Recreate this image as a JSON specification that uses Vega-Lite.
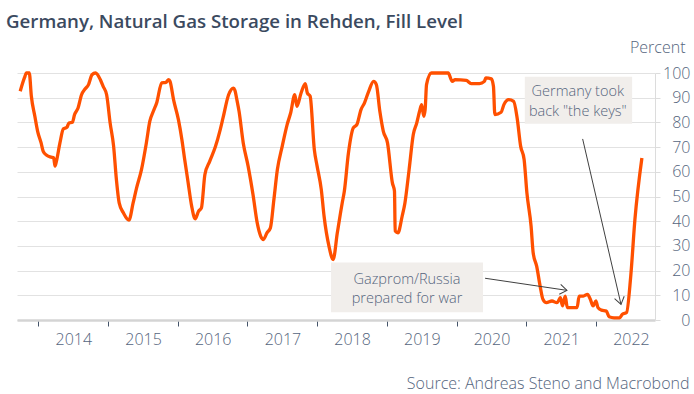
{
  "$schema": "https://vega.github.io/schema/vega-lite/v6.json",
  "autosize": {"type": "none"},
  "width": 638,
  "height": 247,
  "padding": {"left": 17, "top": 73, "right": 39, "bottom": 74},
  "background": "#ffffff",
  "title": {
    "text": "Germany, Natural Gas Storage in Rehden, Fill Level",
    "anchor": "start",
    "frame": "group",
    "dx": -11,
    "offset": 7,
    "font": "Open Sans",
    "fontSize": 18.7,
    "fontWeight": 600,
    "color": "#3b4a5f"
  },
  "config": {
    "view": {"stroke": null},
    "font": "Open Sans"
  },
  "datasets": {
    "storage": [
      {"year": 2013.74, "fill": 92.6}, {"year": 2013.80, "fill": 98}, {"year": 2013.83, "fill": 100}, {"year": 2013.87, "fill": 100},
      {"year": 2013.90, "fill": 90.6}, {"year": 2013.95, "fill": 82.5}, {"year": 2013.99, "fill": 76.4}, {"year": 2014.04, "fill": 71.7},
      {"year": 2014.07, "fill": 68.3}, {"year": 2014.12, "fill": 66.7}, {"year": 2014.19, "fill": 65.9}, {"year": 2014.22, "fill": 65.6},
      {"year": 2014.24, "fill": 62.3}, {"year": 2014.26, "fill": 64.3}, {"year": 2014.31, "fill": 71.7}, {"year": 2014.36, "fill": 77.4},
      {"year": 2014.41, "fill": 78}, {"year": 2014.44, "fill": 79.8}, {"year": 2014.49, "fill": 80.1}, {"year": 2014.52, "fill": 83.2},
      {"year": 2014.57, "fill": 85.8}, {"year": 2014.62, "fill": 91.2}, {"year": 2014.67, "fill": 93.5}, {"year": 2014.72, "fill": 95.3},
      {"year": 2014.77, "fill": 99.3}, {"year": 2014.82, "fill": 100}, {"year": 2014.89, "fill": 97.3}, {"year": 2014.93, "fill": 94.6},
      {"year": 2014.98, "fill": 91.2}, {"year": 2015.03, "fill": 79.8}, {"year": 2015.08, "fill": 70.4}, {"year": 2015.12, "fill": 56.9},
      {"year": 2015.16, "fill": 47.4}, {"year": 2015.22, "fill": 43.4}, {"year": 2015.30, "fill": 40.4}, {"year": 2015.36, "fill": 47.4},
      {"year": 2015.41, "fill": 53.5}, {"year": 2015.48, "fill": 60.9}, {"year": 2015.55, "fill": 71.7}, {"year": 2015.60, "fill": 80.5},
      {"year": 2015.65, "fill": 84.5}, {"year": 2015.70, "fill": 88.1}, {"year": 2015.77, "fill": 96}, {"year": 2015.83, "fill": 96.2},
      {"year": 2015.87, "fill": 97.3}, {"year": 2015.89, "fill": 96.6}, {"year": 2015.94, "fill": 89.2}, {"year": 2016.01, "fill": 81.1},
      {"year": 2016.06, "fill": 73}, {"year": 2016.10, "fill": 65}, {"year": 2016.15, "fill": 55.5}, {"year": 2016.20, "fill": 46.1},
      {"year": 2016.25, "fill": 41}, {"year": 2016.30, "fill": 44.1}, {"year": 2016.34, "fill": 45.4}, {"year": 2016.39, "fill": 58.9},
      {"year": 2016.46, "fill": 64.3}, {"year": 2016.54, "fill": 70.1}, {"year": 2016.61, "fill": 77.1}, {"year": 2016.65, "fill": 81.8},
      {"year": 2016.73, "fill": 91.2}, {"year": 2016.80, "fill": 93.9}, {"year": 2016.82, "fill": 93}, {"year": 2016.85, "fill": 89},
      {"year": 2016.88, "fill": 84.5}, {"year": 2016.94, "fill": 71.7}, {"year": 2017.01, "fill": 62.3}, {"year": 2017.08, "fill": 50.8},
      {"year": 2017.14, "fill": 39.4}, {"year": 2017.19, "fill": 34}, {"year": 2017.23, "fill": 32.6}, {"year": 2017.28, "fill": 35.3},
      {"year": 2017.33, "fill": 37.3}, {"year": 2017.38, "fill": 48.8}, {"year": 2017.43, "fill": 60.9}, {"year": 2017.50, "fill": 70.4},
      {"year": 2017.57, "fill": 79.1}, {"year": 2017.62, "fill": 83.8}, {"year": 2017.68, "fill": 91.2}, {"year": 2017.71, "fill": 86.5},
      {"year": 2017.77, "fill": 91.9}, {"year": 2017.83, "fill": 95.7}, {"year": 2017.86, "fill": 91.9}, {"year": 2017.90, "fill": 90.6},
      {"year": 2017.96, "fill": 69}, {"year": 2018.00, "fill": 62.3}, {"year": 2018.06, "fill": 52.8}, {"year": 2018.10, "fill": 42},
      {"year": 2018.17, "fill": 29.9}, {"year": 2018.23, "fill": 24.5}, {"year": 2018.29, "fill": 35.3}, {"year": 2018.36, "fill": 47.4},
      {"year": 2018.39, "fill": 52}, {"year": 2018.45, "fill": 67.7}, {"year": 2018.52, "fill": 77.8}, {"year": 2018.57, "fill": 79.1},
      {"year": 2018.63, "fill": 85.2}, {"year": 2018.68, "fill": 87.9}, {"year": 2018.74, "fill": 92.6}, {"year": 2018.81, "fill": 96.6},
      {"year": 2018.85, "fill": 95.3}, {"year": 2018.90, "fill": 84.5}, {"year": 2018.95, "fill": 76.4}, {"year": 2019.01, "fill": 71.7},
      {"year": 2019.08, "fill": 55.5}, {"year": 2019.11, "fill": 52.2}, {"year": 2019.12, "fill": 36}, {"year": 2019.16, "fill": 35.3},
      {"year": 2019.22, "fill": 42}, {"year": 2019.26, "fill": 47.4}, {"year": 2019.32, "fill": 60.9}, {"year": 2019.38, "fill": 75.1},
      {"year": 2019.43, "fill": 79.8}, {"year": 2019.47, "fill": 84.5}, {"year": 2019.50, "fill": 87.2}, {"year": 2019.53, "fill": 82.5},
      {"year": 2019.55, "fill": 85.2}, {"year": 2019.57, "fill": 95.3}, {"year": 2019.64, "fill": 100}, {"year": 2019.76, "fill": 100},
      {"year": 2019.88, "fill": 100}, {"year": 2019.94, "fill": 96.6}, {"year": 2019.98, "fill": 97.3}, {"year": 2020.14, "fill": 97},
      {"year": 2020.21, "fill": 95.7}, {"year": 2020.33, "fill": 95.7}, {"year": 2020.40, "fill": 96.6}, {"year": 2020.42, "fill": 98},
      {"year": 2020.50, "fill": 97.6}, {"year": 2020.53, "fill": 94.6}, {"year": 2020.55, "fill": 83.2}, {"year": 2020.64, "fill": 84.1},
      {"year": 2020.68, "fill": 87.2}, {"year": 2020.75, "fill": 89.2}, {"year": 2020.82, "fill": 88.5}, {"year": 2020.87, "fill": 81.8},
      {"year": 2020.92, "fill": 70.4}, {"year": 2020.97, "fill": 65}, {"year": 2021.01, "fill": 51.5}, {"year": 2021.07, "fill": 38},
      {"year": 2021.10, "fill": 27.2}, {"year": 2021.15, "fill": 21.8}, {"year": 2021.20, "fill": 13.7}, {"year": 2021.24, "fill": 8.4},
      {"year": 2021.29, "fill": 7}, {"year": 2021.37, "fill": 7.7}, {"year": 2021.44, "fill": 7}, {"year": 2021.47, "fill": 8.1},
      {"year": 2021.49, "fill": 9}, {"year": 2021.52, "fill": 5.7}, {"year": 2021.56, "fill": 9.7}, {"year": 2021.59, "fill": 5},
      {"year": 2021.63, "fill": 5}, {"year": 2021.68, "fill": 5}, {"year": 2021.73, "fill": 5}, {"year": 2021.76, "fill": 9.7},
      {"year": 2021.82, "fill": 9.7}, {"year": 2021.88, "fill": 10.4}, {"year": 2021.92, "fill": 8.4}, {"year": 2021.96, "fill": 5.7},
      {"year": 2022.00, "fill": 7.7}, {"year": 2022.03, "fill": 5}, {"year": 2022.08, "fill": 4}, {"year": 2022.15, "fill": 3.6},
      {"year": 2022.19, "fill": 1.3}, {"year": 2022.26, "fill": 0.9}, {"year": 2022.34, "fill": 0.9}, {"year": 2022.38, "fill": 2.3},
      {"year": 2022.44, "fill": 3}, {"year": 2022.50, "fill": 17.8}, {"year": 2022.56, "fill": 40.7}, {"year": 2022.66, "fill": 65.6}
    ],
    "boxes": [
      {"name": "gazprom", "year": 2018.20, "year2": 2020.38, "fill": 3.1, "fill2": 23.3},
      {"name": "germany", "year": 2020.98, "year2": 2022.52, "fill": 79.5, "fill2": 98.5}
    ],
    "notes": [
      {"year": 2019.29, "fill": 16.0, "label": "Gazprom/Russia"},
      {"year": 2019.29, "fill": 8.4, "label": "prepared for war"},
      {"year": 2021.74, "fill": 92.4, "label": "Germany took"},
      {"year": 2021.74, "fill": 84.4, "label": "back \"the keys\""}
    ],
    "arrows": [
      {"name": "gazprom", "year": 2020.41, "fill": 16.9, "year2": 2021.585, "fill2": 12.0},
      {"name": "germany", "year": 2021.81, "fill": 73.3, "year2": 2022.36, "fill2": 6.35}
    ],
    "heads": [
      {"name": "gazprom", "year": 2021.585, "fill": 12.0},
      {"name": "germany", "year": 2022.36, "fill": 6.35}
    ]
  },
  "encoding": {
    "x": {
      "field": "year", "type": "quantitative",
      "scale": {"domain": [2013.694, 2022.848], "nice": false, "zero": false},
      "axis": {
        "values": [2014, 2015, 2016, 2017, 2018, 2019, 2020, 2021, 2022],
        "format": "d",
        "grid": false,
        "domain": true, "domainColor": "#d4d4d4", "domainWidth": 2.5,
        "ticks": true, "tickColor": "#44546a", "tickSize": 6, "tickWidth": 1,
        "labelOffset": 35, "labelFlush": false, "labelOverlap": false,
        "labelPadding": 5, "labelFontSize": 16, "labelFont": "Open Sans", "labelFontWeight": 300, "labelColor": "#55657d",
        "title": "Source: Andreas Steno and Macrobond",
        "titleX": 672, "titleY": 63, "titleAlign": "right", "titleAnchor": null, "titleBaseline": "middle",
        "titleFontSize": 16, "titleFont": "Open Sans", "titleFontWeight": 300, "titleColor": "#55657d"
      }
    },
    "y": {
      "field": "fill", "type": "quantitative",
      "scale": {"domain": [0, 100], "nice": false},
      "axis": {
        "orient": "right",
        "values": [0, 10, 20, 30, 40, 50, 60, 70, 80, 90, 100],
        "grid": true, "gridColor": "#e2e2e2", "gridWidth": 1,
        "domain": true, "domainColor": "#dcdcdc", "domainWidth": 1,
        "ticks": true, "tickColor": "#dcdcdc", "tickSize": 5,
        "labelOverlap": false,
        "labelAlign": "right", "labelPadding": 30, "labelBaseline": "middle",
        "labelFontSize": 16, "labelFont": "Open Sans", "labelFontWeight": 300, "labelColor": "#55657d",
        "title": "Percent", "titleAngle": 0, "titleX": 30, "titleY": -26, "titleAlign": "right", "titleBaseline": "middle",
        "titleFontSize": 16, "titleFont": "Open Sans", "titleFontWeight": 300, "titleColor": "#55657d"
      }
    }
  },
  "layer": [
    {
      "data": {"name": "storage"},
      "mark": {"type": "line", "color": "#ff5000", "strokeWidth": 3.3, "strokeJoin": "round", "interpolate": "monotone"}
    },
    {
      "data": {"name": "boxes"},
      "mark": {"type": "rect", "fill": "#f1eeeb"},
      "encoding": {
        "x2": {"field": "year2"},
        "y2": {"field": "fill2"}
      }
    },
    {
      "data": {"name": "notes"},
      "mark": {"type": "text", "font": "Open Sans", "fontSize": 14.5, "fontWeight": 300, "color": "#55657d", "align": "center", "baseline": "middle"},
      "encoding": {
        "text": {"field": "label"}
      }
    },
    {
      "data": {"name": "arrows"},
      "mark": {"type": "rule", "color": "#404040", "strokeWidth": 1},
      "encoding": {
        "x2": {"field": "year2"},
        "y2": {"field": "fill2"}
      }
    },
    {
      "data": {"name": "heads"},
      "transform": [{"filter": "datum.name === 'gazprom'"}],
      "mark": {"type": "point", "shape": "M-1,-0.7L0,0L-1,0.7", "filled": false, "stroke": "#404040", "strokeWidth": 1, "size": 200, "angle": 8.3, "opacity": 1}
    },
    {
      "data": {"name": "heads"},
      "transform": [{"filter": "datum.name === 'germany'"}],
      "mark": {"type": "point", "shape": "M-1,-0.7L0,0L-1,0.7", "filled": false, "stroke": "#404040", "strokeWidth": 1, "size": 200, "angle": 77, "opacity": 1}
    }
  ]
}
